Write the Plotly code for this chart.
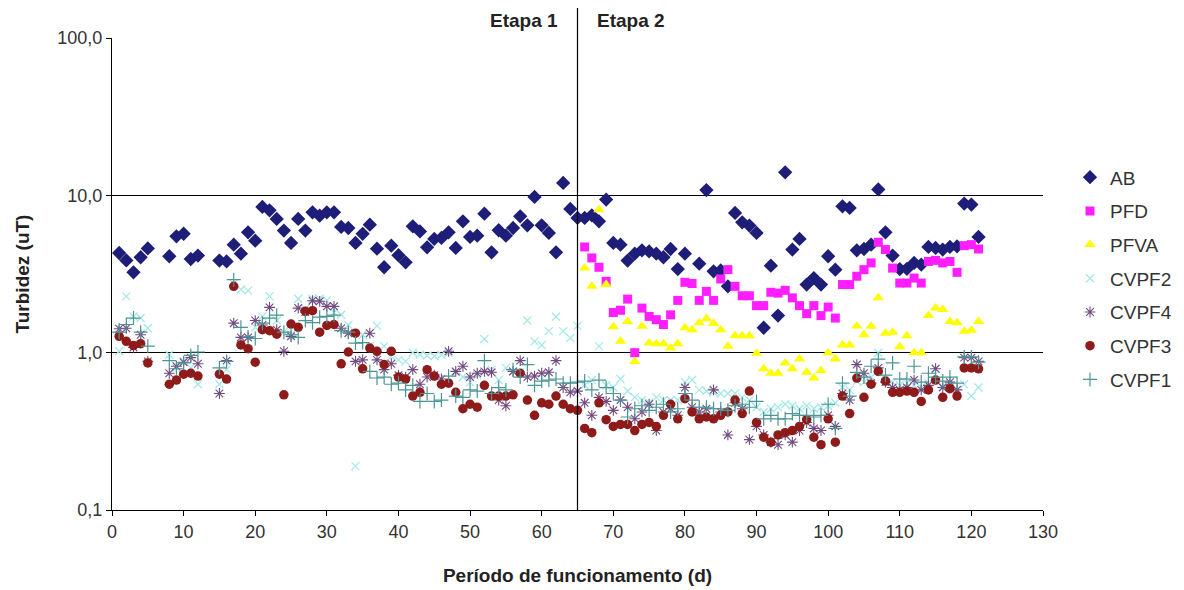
import plotly.graph_objects as go

# ---------------- data ----------------
days_ab = [1, 2, 3, 4, 5, 8, 9, 10, 11, 12] + list(range(15, 81)) + list(range(82, 122))
ab = [4.3, 3.86, 3.24, 4.04, 4.6,
      4.1, 5.49, 5.7, 3.94, 4.14,
      3.85, 3.8, 4.86, 4.26, 5.82, 5.15, 8.44, 8.03, 7.08, 5.97,
      4.98, 7.08, 5.97, 7.8, 7.43, 7.8, 7.8, 6.3, 6.2, 4.98,
      5.69, 6.51, 4.58, 3.49, 4.79, 4.16, 3.75, 6.35, 5.9, 4.67,
      5.28, 5.36, 5.82, 4.63, 6.84, 5.44, 5.54, 7.65, 4.34, 6.0,
      5.54, 6.2, 7.35, 6.45, 9.77, 6.45, 5.77, 4.34, 12.0, 8.2,
      7.18, 7.18, 7.46, 6.84, 9.4, 4.98, 4.86, 3.85, 4.26, 4.47,
      4.4, 4.26, 4.04, 4.56, 3.4, 4.26,
      3.68, 10.8, 3.29, 3.33, 2.64, 7.73, 6.74, 6.42, 5.77, 1.44,
      3.57, 1.72, 14.0, 4.52, 5.28, 2.71, 2.98, 2.71, 4.1, 3.37,
      8.51, 8.32, 4.47, 4.56, 4.86, 10.9, 5.82, 4.14, 3.4, 3.41,
      3.72, 3.63, 4.7, 4.63, 4.52, 4.7, 4.74, 8.86, 8.73, 5.44]

days_pf = list(range(66, 122))
pfd = [4.7, 4.0, 3.49, 2.84, 1.80, 1.86, 2.19, 1.0, 1.92, 1.70,
       1.62, 1.51, 1.74, 2.15, 2.8, 2.75, 2.15, 2.45, 2.15, 2.94,
       3.37, 2.64, 2.30, 2.30, 1.99, 1.99, 2.42, 2.39, 2.49, 2.23,
       1.99, 1.77, 1.99, 1.72, 1.95, 1.66, 2.71, 2.71, 3.06, 3.37,
       3.72, 5.03, 4.52, 3.45, 2.77, 2.77, 2.98, 2.77, 3.80, 3.86,
       3.72, 3.80, 3.24, 4.79, 4.86, 4.56]
pfva = [3.45, 2.64, 8.1, 2.71, 1.46, 1.18, 1.58, 0.88, 1.47, 1.15,
        1.14, 1.14, 1.07, 1.14, 1.44, 1.40, 1.55, 1.64, 1.53, 1.40,
        1.10, 1.28, 1.28, 1.28, 0.99, 0.79, 0.74, 0.74, 0.86, 0.79,
        0.91, 0.75, 0.69, 0.77, 1.0, 0.91, 1.12, 1.12, 1.48, 1.30,
        1.47, 2.23, 1.33, 1.35, 1.09, 1.28, 1.0, 1.0, 1.72, 1.92,
        1.88, 1.58, 1.55, 1.37, 1.39, 1.58]

days_cv = [1, 2, 3, 4, 5, 8, 9, 10, 11, 12] + list(range(15, 122))
cvpf2 = [1.02, 2.28, 1.70, 1.66, 1.43,
         0.97, 0.80, 0.88, 0.80, 0.63,
         0.63, 0.78, 2.75, 2.52, 2.48, 1.45, 1.70, 2.28, 1.60, 1.35,
         1.30, 2.20, 1.90, 2.20, 2.20, 2.15, 1.80, 1.74, 1.50, 0.19,
         1.30, 1.10, 1.48, 1.10, 0.95, 0.90, 0.88, 1.00, 0.97, 0.96,
         0.95, 0.97, 1.00, 0.75, 0.70, 0.65, 0.72, 1.22, 0.78, 0.67,
         0.80, 0.76, 0.75, 1.60, 1.18, 1.12, 1.37, 1.69, 1.37, 1.24,
         1.48, 0.62, 0.67, 1.10, 0.62, 0.60, 0.68, 0.57, 0.52, 0.50,
         0.48, 0.52, 0.50, 0.50, 0.50, 0.65, 0.67, 0.58, 0.57, 0.56,
         0.55, 0.55, 0.55, 0.52, 0.50, 0.45, 0.42, 0.44, 0.45, 0.47,
         0.46, 0.44, 0.46, 0.44, 0.45, 0.46, 0.48, 0.60, 0.58, 0.66,
         0.65, 0.70, 1.00, 0.68, 0.65, 0.62, 0.64, 0.62, 0.60, 0.64,
         0.79, 0.61, 0.60, 0.58, 0.63, 0.53, 0.60]
cvpf4 = [1.42, 1.43, 1.08, 1.30, 0.88,
         0.74, 0.82, 0.87, 0.93, 0.85,
         0.55, 0.89, 1.54, 1.25, 1.25, 1.60, 1.50, 1.94, 1.40, 1.02,
         1.27, 1.92, 1.81, 2.14, 2.12, 1.97, 1.97, 1.43, 1.33, 0.88,
         0.90, 1.33, 0.90, 0.78, 0.85, 0.72, 0.70, 0.78, 0.63, 0.70,
         0.72, 0.68, 1.02, 0.76, 0.82, 0.70, 0.74, 0.76, 0.75, 0.50,
         0.46, 0.76, 0.89, 0.70, 0.71, 0.74, 0.75, 0.89, 0.60, 0.56,
         0.57, 0.48, 0.40, 0.52, 0.49, 0.43, 0.50, 0.45, 0.38, 0.42,
         0.47, 0.32, 0.42, 0.44, 0.40, 0.60, 0.45, 0.42, 0.44, 0.58,
         0.42, 0.30, 0.48, 0.44, 0.28, 0.34, 0.30, 0.27, 0.26, 0.30,
         0.27, 0.32, 0.36, 0.33, 0.32, 0.40, 0.34, 0.55, 0.50, 0.84,
         0.74, 0.64, 0.80, 0.65, 0.60, 0.58, 0.60, 0.67, 0.58, 0.62,
         0.79, 0.60, 0.65, 0.58, 0.93, 0.93, 0.88]
cvpf3 = [1.27, 1.18, 1.11, 1.14, 0.86,
         0.63, 0.67, 0.73, 0.74, 0.71,
         0.73, 0.68, 2.64, 1.12, 1.06, 0.87, 1.40, 1.38, 1.31, 0.54,
         1.52, 1.45, 1.83, 1.85, 1.35, 1.49, 1.51, 0.85, 1.01, 1.33,
         0.79, 1.07, 1.02, 0.84, 1.02, 0.70, 0.68, 0.53, 0.56, 0.78,
         0.71, 0.63, 0.64, 0.56, 0.44, 0.47, 0.45, 0.62, 0.53, 0.53,
         0.53, 0.54, 0.74, 0.50, 0.40, 0.48, 0.47, 0.53, 0.47, 0.44,
         0.43, 0.33, 0.31, 0.48, 0.375, 0.34, 0.35, 0.35, 0.32, 0.35,
         0.36, 0.34, 0.40, 0.47, 0.38, 0.51, 0.42, 0.38, 0.39, 0.38,
         0.40, 0.42, 0.50, 0.41, 0.57, 0.36, 0.29, 0.27, 0.30, 0.31,
         0.32, 0.34, 0.375, 0.29, 0.26, 0.38, 0.27, 0.53, 0.41, 0.69,
         0.52, 0.63, 0.76, 0.66, 0.56, 0.56, 0.57, 0.56, 0.49, 0.58,
         0.67, 0.52, 0.59, 0.53, 0.80, 0.80, 0.79]
cvpf1 = [1.35, 1.51, 1.66, 1.35, 1.10,
         0.89, 0.79, 0.86, 0.96, 1.01,
         0.80, 0.88, 2.91, 1.45, 1.26, 1.23, 1.54, 1.66, 1.73, 1.35,
         1.30, 1.25, 1.60, 1.55, 1.68, 1.70, 1.73, 1.38, 1.35, 1.15,
         1.16, 0.76, 0.69, 0.70, 0.63, 0.64, 0.58, 0.62, 0.49, 0.55,
         0.49, 0.50, 0.71, 0.53, 0.52, 0.58, 0.57, 0.89, 0.55, 0.60,
         0.58, 0.78, 0.70, 0.84, 0.62, 0.66, 0.67, 0.68, 0.64, 0.64,
         0.65, 0.66, 0.58, 0.67, 0.60, 0.55, 0.50, 0.39, 0.44, 0.46,
         0.43, 0.45, 0.47, 0.42, 0.44, 0.55, 0.50, 0.45, 0.45, 0.44,
         0.44, 0.43, 0.46, 0.47, 0.45, 0.49, 0.38, 0.40, 0.38, 0.38,
         0.41, 0.40, 0.40, 0.39, 0.40, 0.47, 0.33, 0.64, 0.53, 0.75,
         0.70, 0.82, 0.91, 0.72, 0.86, 0.68, 0.68, 0.82, 0.65, 0.74,
         0.70, 0.66, 0.70, 0.64, 0.94, 0.94, 0.87]

y_tickvals = [0.1, 1, 10, 100]
y_ticktext = ["0,1", "1,0", "10,0", "100,0"]
stage_day = 65
stage_labels = ["Etapa 1", "Etapa 2"]

# ---------------- figure ----------------
FONT = "Liberation Sans, Arial, sans-serif"
fig = go.Figure()

series = [
    ("AB", days_ab, ab, dict(symbol="diamond", size=11, color="#1E1E78")),
    ("PFD", days_pf, pfd, dict(symbol="square", size=9, color="#FF1EFF")),
    ("PFVA", days_pf, pfva, dict(symbol="triangle-up", size=10, color="#FFFF00")),
    ("CVPF2", days_cv, cvpf2, dict(symbol="x-thin", size=8, color="#A6E8E8",
                                    line=dict(width=1.3, color="#A6E8E8"))),
    ("CVPF4", days_cv, cvpf4, dict(symbol="asterisk", size=9, color="#734A80",
                                    line=dict(width=1.1, color="#734A80"))),
    ("CVPF3", days_cv, cvpf3, dict(symbol="circle", size=9.5, color="#8E1A1A")),
    ("CVPF1", days_cv, cvpf1, dict(symbol="cross-thin", size=10, color="#4A9595",
                                    line=dict(width=1.2, color="#4A9595"))),
]
for i, (name, xs, ys, mk) in enumerate(series):
    fig.add_trace(go.Scatter(x=xs, y=ys, mode="markers", name=name,
                             legendgroup=f"g{i}", marker=mk, cliponaxis=True))

fig.add_shape(type="line", xref="x", yref="paper", x0=stage_day, x1=stage_day,
              y0=0, y1=1.064, line=dict(color="black", width=1.2))
fig.add_annotation(x=62.5, y=1.038, xref="x", yref="paper", text="<b>" + stage_labels[0] + "</b>",
                   showarrow=False, xanchor="right", yanchor="middle",
                   font=dict(family=FONT, size=19, color="#222"))
fig.add_annotation(x=67.4, y=1.038, xref="x", yref="paper", text="<b>" + stage_labels[1] + "</b>",
                   showarrow=False, xanchor="left", yanchor="middle",
                   font=dict(family=FONT, size=19, color="#222"))

fig.update_layout(
    width=1176, height=582,
    margin=dict(l=104, r=141, t=30, b=80, autoexpand=False),
    paper_bgcolor="white", plot_bgcolor="white",
    font=dict(family=FONT, size=18, color="#333"),
    legend=dict(x=1.029, y=0.745, xanchor="left", yanchor="top",
                traceorder="grouped", tracegroupgap=6,
                font=dict(family=FONT, size=19, color="#333"),
                itemwidth=30, bgcolor="rgba(0,0,0,0)"),
    showlegend=True,
)
fig.update_xaxes(range=[0, 130], tickmode="linear", tick0=0, dtick=10,
                 showgrid=False, zeroline=False, showline=True, linecolor="black",
                 linewidth=1.2, ticks="outside", ticklen=5, tickcolor="black",
                 automargin=False,
                 tickfont=dict(family=FONT, size=18, color="#333"),
                 title=dict(text="<b>Período de funcionamento (d)</b>", standoff=27,
                            font=dict(family=FONT, size=19, color="#222")))
fig.update_yaxes(type="log", range=[-1, 2], tickvals=y_tickvals, ticktext=y_ticktext,
                 showgrid=True, gridcolor="black", gridwidth=1.2, zeroline=False,
                 showline=True, linecolor="black", linewidth=1.2,
                 ticks="outside", ticklen=5, tickcolor="black",
                 automargin=False,
                 tickfont=dict(family=FONT, size=18, color="#333"),
                 title=dict(text="<b>Turbidez (uT)</b>", standoff=22,
                            font=dict(family=FONT, size=19, color="#222")))

fig.write_html("out.html")
